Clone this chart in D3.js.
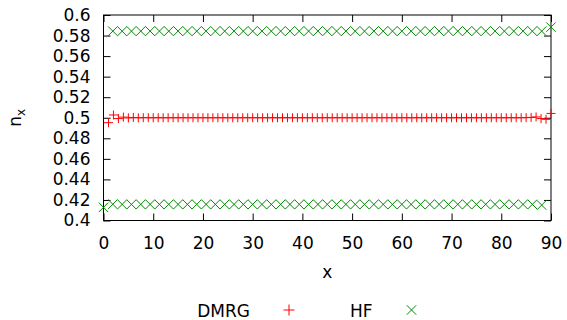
<!DOCTYPE html>
<html>
<head>
<meta charset="utf-8">
<script src="https://cdn.jsdelivr.net/npm/d3@7"></script>
<style>
  body { margin: 0; background: #fff; }
  text { font-family: "DejaVu Sans", sans-serif; }
</style>
</head>
<body>
<div id="chart"></div>
<script>
// DMRG: site index 1..90
const dmrgX = [1,2,3,4,5,6,7,8,9,10,11,12,13,14,15,16,17,18,19,20,21,22,23,24,25,26,27,28,29,30,
  31,32,33,34,35,36,37,38,39,40,41,42,43,44,45,46,47,48,49,50,51,52,53,54,55,56,57,58,59,60,
  61,62,63,64,65,66,67,68,69,70,71,72,73,74,75,76,77,78,79,80,81,82,83,84,85,86,87,88,89,90];
const dmrgY = [0.4952,0.5027,0.4992,0.5006,0.4998,0.5003,0.4999,0.5001,0.5,0.5,
  0.5,0.5,0.5,0.5,0.5,0.5,0.5,0.5,0.5,0.5,0.5,0.5,0.5,0.5,0.5,0.5,0.5,0.5,0.5,0.5,
  0.5,0.5,0.5,0.5,0.5,0.5,0.5,0.5,0.5,0.5,0.5,0.5,0.5,0.5,0.5,0.5,0.5,0.5,0.5,0.5,
  0.5,0.5,0.5,0.5,0.5,0.5,0.5,0.5,0.5,0.5,0.5,0.5,0.5,0.5,0.5,0.5,0.5,0.5,0.5,0.5,
  0.5,0.5,0.5,0.5,0.5,0.5,0.5,0.5,0.5,0.5,0.5,0.5,0.5,0.5,0.5001,0.5003,0.5008,0.4992,0.4985,0.5042];

// HF: two rows sharing the same x grid
const hfX = [0,1.875,3.75,5.625,7.5,9.375,11.25,13.125,15,16.875,18.75,20.625,22.5,24.375,26.25,28.125,
  30,31.875,33.75,35.625,37.5,39.375,41.25,43.125,45,46.875,48.75,50.625,52.5,54.375,56.25,58.125,
  60,61.875,63.75,65.625,67.5,69.375,71.25,73.125,75,76.875,78.75,80.625,82.5,84.375,86.25,88.125,90];
const hfHigh = [null,0.5843,0.5842,0.5843,0.5843,0.5843,0.5843,0.5843,0.5843,0.5843,0.5843,0.5843,0.5843,0.5843,0.5843,0.5843,
  0.5843,0.5843,0.5843,0.5843,0.5843,0.5843,0.5843,0.5843,0.5843,0.5843,0.5843,0.5843,0.5843,0.5843,0.5843,0.5843,
  0.5843,0.5843,0.5843,0.5843,0.5843,0.5843,0.5843,0.5843,0.5843,0.5843,0.5843,0.5843,0.5843,0.5843,0.5843,0.5843,0.5882];
const hfLow = [0.4128,0.4158,0.4157,0.4157,0.4157,0.4157,0.4157,0.4157,0.4157,0.4157,0.4157,0.4157,0.4157,0.4157,0.4157,0.4157,
  0.4157,0.4157,0.4157,0.4157,0.4157,0.4157,0.4157,0.4157,0.4157,0.4157,0.4157,0.4157,0.4157,0.4157,0.4157,0.4157,
  0.4157,0.4157,0.4157,0.4157,0.4157,0.4157,0.4157,0.4157,0.4157,0.4157,0.4157,0.4157,0.4157,0.4157,0.4157,0.4150,null];

const xTicks = [0,10,20,30,40,50,60,70,80,90];
const yTicks = [0.4,0.42,0.44,0.46,0.48,0.5,0.52,0.54,0.56,0.58,0.6];

const W = 567, H = 320;
const margin = {top: 15, right: 16, bottom: 99.5, left: 103.5};
const width = W - margin.left - margin.right,
  height = H - margin.top - margin.bottom;

const red = '#ff0000', green = '#008a00';

const x = d3.scaleLinear().domain([0, 90]).range([0, width]);
const y = d3.scaleLinear().domain([0.4, 0.6]).range([height, 0]);

const svg = d3.select('#chart').append('svg')
  .attr('width', W).attr('height', H);
const g = svg.append('g').attr('transform', `translate(${margin.left},${margin.top})`);

// axes with inward ticks, mirrored on top / right
const tickLen = 7;
const xAxis = d3.axisBottom(x).tickValues(xTicks).tickSize(-tickLen).tickPadding(tickLen + 9).tickFormat(d3.format('d'));
const yAxis = d3.axisLeft(y).tickValues(yTicks).tickSize(-tickLen).tickPadding(tickLen + 6).tickFormat(d => d3.format('')(+d.toFixed(2)));

g.append('g').attr('class', 'x axis').attr('transform', `translate(0,${height})`).call(xAxis);
g.append('g').attr('class', 'y axis').call(yAxis);
g.append('g').attr('class', 'x2 axis').call(d3.axisTop(x).tickValues(xTicks).tickSize(-tickLen).tickFormat(''));
g.append('g').attr('class', 'y2 axis').attr('transform', `translate(${width},0)`).call(d3.axisRight(y).tickValues(yTicks).tickSize(-tickLen).tickFormat(''));

svg.selectAll('.axis path.domain').remove();
svg.selectAll('.axis text').style('font-size', '17px').attr('fill', '#000');
svg.selectAll('.axis line').attr('stroke', '#000');

// frame
g.append('rect').attr('width', width).attr('height', height)
  .attr('fill', 'none').attr('stroke', '#000').attr('stroke-width', 1);

const plusPath = 'M-4.5,0H4.5M0,-4.5V4.5';
const crossPath = 'M-4.7,-4.7L4.7,4.7M-4.7,4.7L4.7,-4.7';

const dmrg = dmrgX.map((d, i) => ({x: d, y: dmrgY[i]}));
g.selectAll('.dmrg').data(dmrg).enter().append('path')
  .attr('class', 'dmrg')
  .attr('transform', d => `translate(${x(d.x)},${y(d.y)})`)
  .attr('d', plusPath).attr('stroke', red).attr('fill', 'none');

const hf = [];
hfX.forEach((d, i) => {
  if (hfHigh[i] != null) hf.push({x: d, y: hfHigh[i]});
  if (hfLow[i] != null) hf.push({x: d, y: hfLow[i]});
});
g.selectAll('.hf').data(hf).enter().append('path')
  .attr('class', 'hf')
  .attr('transform', d => `translate(${x(d.x)},${y(d.y)})`)
  .attr('d', crossPath).attr('stroke', green).attr('fill', 'none');

// axis labels
svg.append('text')
  .attr('x', margin.left + width / 2).attr('y', 278)
  .attr('text-anchor', 'middle').style('font-size', '17px')
  .text('x');

const yl = svg.append('text')
  .attr('transform', `translate(21,${margin.top + height / 2}) rotate(-90)`)
  .attr('text-anchor', 'middle').style('font-size', '17px');
yl.append('tspan').text('n');
yl.append('tspan').attr('dy', 4).style('font-size', '12px').text('x');

// legend
svg.append('text').attr('x', 250).attr('y', 316.5).attr('text-anchor', 'end').style('font-size', '17px').text('DMRG');
svg.append('path').attr('transform', 'translate(289,310)').attr('d', 'M-5.5,0H5.5M0,-5.5V5.5').attr('stroke', red).attr('fill', 'none');
svg.append('text').attr('x', 372.5).attr('y', 316.5).attr('text-anchor', 'end').style('font-size', '17px').text('HF');
svg.append('path').attr('transform', 'translate(411.5,310)').attr('d', crossPath).attr('stroke', green).attr('fill', 'none');
</script>
</body>
</html>
